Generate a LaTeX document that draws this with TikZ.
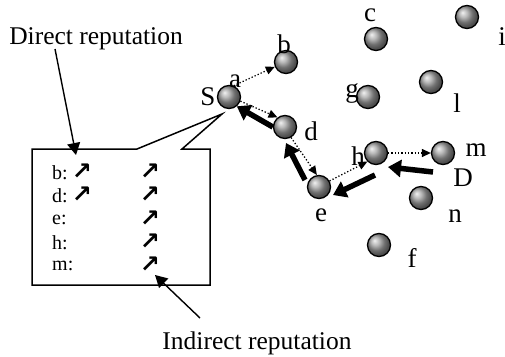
\documentclass[tikz,border=0pt]{standalone}
\usepackage{fontspec}
\setmainfont{Liberation Serif}
\newfontfamily\symfont{DejaVu Sans}
\usetikzlibrary{arrows.meta,calc}
\begin{document}
\begin{tikzpicture}[x=1pt,y=-1pt,
  ball/.style={circle,draw=black,line width=1.3pt,minimum size=23pt,inner sep=0pt,shading=ball,ball color=gray!75},
  lbl/.style={font=\fontsize{27}{27}\selectfont,inner sep=0pt},
  captext/.style={font=\fontsize{25.5}{26}\selectfont,inner sep=0pt,anchor=base},
  row/.style={font=\fontsize{20}{20}\selectfont,inner sep=0pt,anchor=west},
  uparr/.style={font=\symfont\bfseries\fontsize{24}{24}\selectfont,inner sep=0pt},
  dotarrow/.style={dotted,line width=1.3pt,-{Triangle[length=9pt,width=8pt]}},
  bigarrow/.style={line width=5.5pt,-{Triangle[length=13pt,width=17pt]}},
  callarrow/.style={line width=1.4pt,-{Triangle[length=12pt,width=13pt]}}
]
\useasboundingbox (0,0) rectangle (505,356);

% balls
\node[ball] (S) at (229,97) {};
\node[ball] (b) at (286,62) {};
\node[ball] (c) at (376,39) {};
\node[ball] (i) at (467,17) {};
\node[ball] (g) at (368,97) {};
\node[ball] (l) at (431,82) {};
\node[ball] (d) at (285,127) {};
\node[ball] (h) at (376,153) {};
\node[ball] (m) at (443,153) {};
\node[ball] (e) at (319,187) {};
\node[ball] (n) at (421,198) {};
\node[ball] (f) at (379,245) {};

% labels
\node[lbl] (Slbl) at (208,97) {S};
\node[lbl] (albl) at (235,81) {a};
\node[lbl] (blbl) at (284,44) {b};
\node[lbl] (clbl) at (370,15) {c};
\node[lbl] (ilbl) at (502,37) {i};
\node[lbl] (glbl) at (352,93) {g};
\node[lbl] (llbl) at (457,103) {l};
\node[lbl] (dlbl) at (311,131) {d};
\node[lbl] (mlbl) at (476,150) {m};
\node[lbl] (Dlbl) at (463,178) {D};
\node[lbl] (hlbl) at (358,156) {h};
\node[lbl] (elbl) at (321,215) {e};
\node[lbl] (nlbl) at (455,216) {n};
\node[lbl] (flbl) at (412,258) {f};

% dotted links
\draw[dotarrow] (S.68) -- (b.203);
\draw[dotarrow] (S.-20) -- (d.128);
\draw[dotarrow] (d.-60) -- (e.100);
\draw[dotarrow] (e.30) -- (h.-135);
\draw[dotarrow] (h.east) -- (m.west);

% thick arrows
\draw[bigarrow] (d.180) -- (S.-50);
\draw[bigarrow] ($(e)+(-14,-7)$) -- ($(d)+(1,16)$);
\draw[bigarrow] ($(h)+(-1,22)$) -- ($(e)+(14,8)$);
\draw[bigarrow] ($(m)+(-10,19)$) -- ($(h)+(12,14)$);

% callout box
\draw[line width=1.5pt,line join=miter] (32,149) -- (137,149) -- (222,114) -- (182,149) -- (210,149) -- (210,285) -- (32,285) -- cycle;

\node[row] (rb) at (52,173) {b:};
\node[row] (rd) at (52,196) {d:};
\node[row] (re) at (52,220) {e:};
\node[row] (rh) at (52,243) {h:};
\node[row] (rm) at (52,266) {m:};
\node[uparr] (ub1) at (82,172) {↗};
\node[uparr] (ud1) at (82,195) {↗};
\node[uparr] (ub2) at (150,172) {↗};
\node[uparr] (ud2) at (150,195) {↗};
\node[uparr] (ue2) at (150,219) {↗};
\node[uparr] (uh2) at (150,242) {↗};
\node[uparr] (um2) at (150,265) {↗};

% captions
\node[captext] (dir) at (96,44) {Direct reputation};
\node[captext] (ind) at (257,349) {Indirect reputation};
\coordinate (dirstart) at (55,49);
\coordinate (dirtip) at (76,155);
\coordinate (indstart) at (200,318);
\coordinate (indtip) at (155,275);
\draw[callarrow] (dirstart) -- (dirtip);
\draw[callarrow] (indstart) -- (indtip);
\end{tikzpicture}
\end{document}
